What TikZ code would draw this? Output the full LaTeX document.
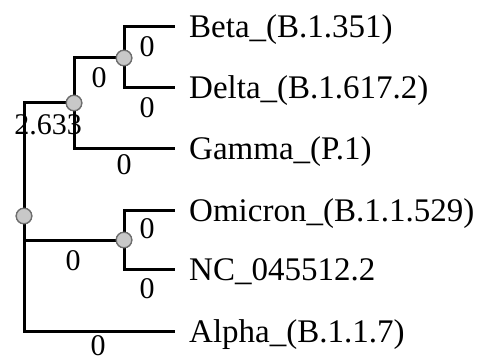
\documentclass[tikz,border=0pt]{standalone}
\usepackage{fontspec}
\setmainfont{Liberation Serif}
\definecolor{nodefill}{RGB}{200,200,200}
\definecolor{nodeedge}{RGB}{110,110,110}
\begin{document}
\begin{tikzpicture}[x=1pt,y=-1pt,
  branch/.style={line width=3pt,black},
  inner/.style={circle,draw=nodeedge,fill=nodefill,line width=1.3pt,minimum size=15.5pt,inner sep=0pt},
  taxon/.style={anchor=base west,inner sep=0pt,font=\fontsize{33}{36}\selectfont},
  blen/.style={anchor=center,inner sep=0pt,font=\fontsize{30}{32}\selectfont}]
\useasboundingbox (0,0) rectangle (486,358);
% internal nodes
\node[inner] (root) at (24,216) {};
\node[inner] (nA) at (74,103) {};
\node[inner] (nB) at (124,58) {};
\node[inner] (nC) at (124,240) {};
% leaf ends
\coordinate (lBeta) at (175,27);
\coordinate (lDelta) at (175,88);
\coordinate (lGamma) at (175,148);
\coordinate (lOmi) at (175,210);
\coordinate (lNC) at (175,269);
\coordinate (lAlpha) at (175,331);
% branches
\draw[branch] (root.center) |- (nA.center);
\draw[branch] (root.center) |- (nC.center);
\draw[branch] (root.center) |- (lAlpha);
\draw[branch] (nA.center) |- (nB.center);
\draw[branch] (nA.center) |- (lGamma);
\draw[branch] (nB.center) |- (lBeta);
\draw[branch] (nB.center) |- (lDelta);
\draw[branch] (nC.center) |- (lOmi);
\draw[branch] (nC.center) |- (lNC);
% redraw circles on top
\node[inner] at (root) {};
\node[inner] at (nA) {};
\node[inner] at (nB) {};
\node[inner] at (nC) {};
% taxa
\node[taxon] (tBeta) at (189,38) {Beta\_(B.1.351)};
\node[taxon] (tDelta) at (189,99) {Delta\_(B.1.617.2)};
\node[taxon] (tGamma) at (189,159) {Gamma\_(P.1)};
\node[taxon] (tOmi) at (189,221) {Omicron\_(B.1.1.529)};
\node[taxon] (tNC) at (189,280) {NC\_045512.2};
\node[taxon] (tAlpha) at (189,342) {Alpha\_(B.1.1.7)};
% branch lengths
\node[blen] (bBeta) at (147,47) {0};
\node[blen] (bDelta) at (147,108) {0};
\node[blen] (bAB) at (99,78) {0};
\node[blen] (bGamma) at (124,165) {0};
\node[blen] (bRA) at (48,125) {2.633};
\node[blen] (bOmi) at (147,229) {0};
\node[blen] (bNC) at (147,289) {0};
\node[blen] (bRC) at (73,261) {0};
\node[blen] (bAlpha) at (98,346) {0};
\end{tikzpicture}
\end{document}
